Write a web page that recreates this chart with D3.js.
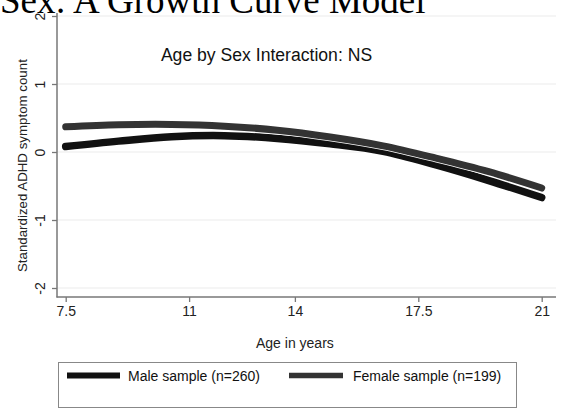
<!DOCTYPE html>
<html><head><meta charset="utf-8">
<script src="https://cdn.jsdelivr.net/npm/d3@7"></script>
<style>body{margin:0;background:#fff}svg{display:block}</style>
</head><body>
<svg id="c" width="573" height="412"></svg>
<script>
const ages = [7.5, 9, 10.5, 12, 13.5, 15, 16.5, 18, 19.5, 21];
const maleValues = [0.08, 0.16, 0.225, 0.24, 0.20, 0.12, 0.01, -0.19, -0.42, -0.67];
const femaleValues = [0.37, 0.40, 0.405, 0.38, 0.32, 0.22, 0.09, -0.09, -0.29, -0.53];
const xTicks = [7.5, 11, 14, 17.5, 21];
const xTickLabels = ["7.5", "11", "14", "17.5", "21"];
const yTicks = [-2, -1, 0, 1, 2];
const yTickLabels = ["-2", "-1", "0", "1", "2"];
const seriesNames = ["Male sample (n=260)", "Female sample (n=199)"];

const svg = d3.select("#c");
const sans = "Liberation Sans, Arial, Helvetica, sans-serif";
const x = d3.scaleLinear().domain([7.5, 21]).range([65.7, 541.7]);
const y = d3.scaleLinear().domain([-2, 2]).range([288, 16]);
const axisColor = "#777";

// title fragment (clipped at top, as in the source image)
svg.append("text").attr("x", 0).attr("y", 13)
  .attr("font-family", "Liberation Serif, Times New Roman, serif")
  .attr("font-size", 37).attr("fill", "#000")
  .text("Sex: A Growth Curve Model");

// gridlines
svg.append("g").selectAll("line").data(yTicks).join("line")
  .attr("x1", 57).attr("x2", 556)
  .attr("y1", d => y(d)).attr("y2", d => y(d))
  .attr("stroke", "#ececec").attr("stroke-width", 1.2);

// y axis
const yAx = svg.append("g").attr("transform", "translate(57,0)")
  .call(d3.axisLeft(y).tickValues(yTicks).tickSize(5).tickFormat((d, i) => yTickLabels[i]));
yAx.select(".domain").remove();
yAx.selectAll(".tick line").attr("stroke", axisColor).attr("stroke-width", 1.3);
yAx.selectAll(".tick text")
  .attr("font-family", sans).attr("font-size", 14).attr("fill", "#222")
  .attr("x", null).attr("dy", null)
  .attr("text-anchor", "middle")
  .attr("transform", "translate(-12,0) rotate(-90)");
svg.append("line").attr("x1", 57).attr("x2", 57).attr("y1", 13).attr("y2", 297.5)
  .attr("stroke", axisColor).attr("stroke-width", 1.5);

// x axis
const xAx = svg.append("g").attr("transform", "translate(0,297)")
  .call(d3.axisBottom(x).tickValues(xTicks).tickSize(5).tickFormat((d, i) => xTickLabels[i]));
xAx.select(".domain").remove();
xAx.selectAll(".tick line").attr("stroke", axisColor).attr("stroke-width", 1.3);
xAx.selectAll(".tick text").attr("font-family", sans).attr("font-size", 14)
  .attr("fill", "#222").attr("y", 9).attr("dy", "0.71em");
svg.append("line").attr("x1", 56.5).attr("x2", 556).attr("y1", 297).attr("y2", 297)
  .attr("stroke", axisColor).attr("stroke-width", 1.5);

// axis titles
svg.append("text").attr("transform", `translate(27,${y(-0.2)}) rotate(-90)`)
  .attr("text-anchor", "middle").attr("font-family", sans).attr("font-size", 13.3)
  .attr("fill", "#222").text("Standardized ADHD symptom count");
svg.append("text").attr("x", x(14)).attr("y", 348).attr("text-anchor", "middle")
  .attr("font-family", sans).attr("font-size", 14).attr("fill", "#222").text("Age in years");

// annotation
svg.append("text").attr("x", 266.5).attr("y", 61).attr("text-anchor", "middle")
  .attr("font-family", sans).attr("font-size", 17.6).attr("fill", "#111")
  .text("Age by Sex Interaction: NS");

// curves
const line = d3.line().x(d => x(d[0])).y(d => y(d[1])).curve(d3.curveCatmullRom);
const maleData = ages.map((a, i) => [a, maleValues[i]]);
const femaleData = ages.map((a, i) => [a, femaleValues[i]]);
const series = [
  {data: maleData, color: "#111", w: 7.5},
  {data: femaleData, color: "#333", w: 7}
];
series.forEach(s => {
  svg.append("path").attr("d", line(s.data)).attr("fill", "none")
    .attr("stroke", "#fff").attr("stroke-width", s.w + 1.6).attr("stroke-linecap", "round");
  svg.append("path").attr("d", line(s.data)).attr("fill", "none")
    .attr("stroke", s.color).attr("stroke-width", s.w).attr("stroke-linecap", "round");
});

// legend
svg.append("rect").attr("x", 58.5).attr("y", 362.5).attr("width", 458).attr("height", 45)
  .attr("fill", "#fff").attr("stroke", "#888").attr("stroke-width", 1);
const leg = [
  {x1: 67, x2: 120, tx: 128, color: "#111", w: 6},
  {x1: 289, x2: 343, tx: 353, color: "#333", w: 5.5}
];
leg.forEach((l, i) => {
  svg.append("line").attr("x1", l.x1).attr("x2", l.x2).attr("y1", 375.5).attr("y2", 375.5)
    .attr("stroke", l.color).attr("stroke-width", l.w);
  svg.append("text").attr("x", l.tx).attr("y", 381).attr("font-family", sans)
    .attr("font-size", 14).attr("fill", "#111").text(seriesNames[i]);
});
</script>
</body></html>
